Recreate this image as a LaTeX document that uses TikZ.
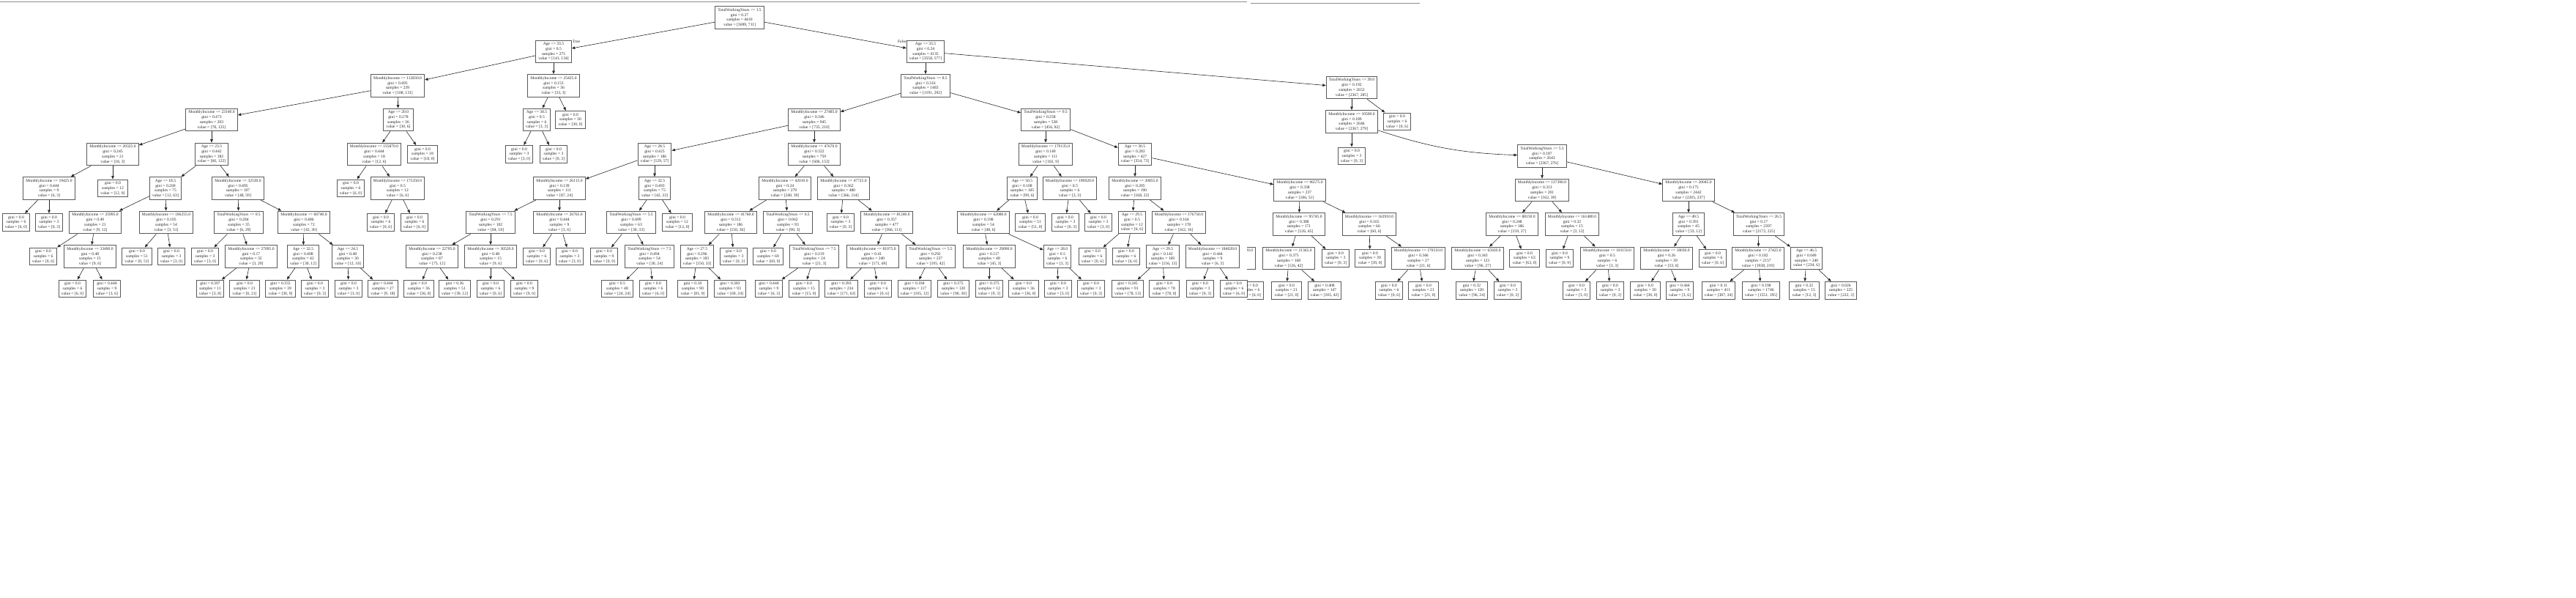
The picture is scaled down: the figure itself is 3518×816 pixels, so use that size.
\documentclass[tikz,border=0pt]{standalone}
\usepackage{fontspec}
\setmainfont{Liberation Serif}
\usetikzlibrary{arrows.meta}

\begin{document}
\begin{tikzpicture}[x=1pt, y=-1pt,
    tnode/.style={draw=black!65, line width=1pt, rectangle, align=center, text=black!85,
      font=\fontsize{5.6}{6.7}\selectfont, inner xsep=3.6pt, inner ysep=3pt},
    branch/.style={draw=black!85, line width=0.6pt, -{Triangle[length=4.5pt,width=3.6pt]}},
    tflabel/.style={text=black!85, font=\fontsize{5.6}{6.7}\selectfont, inner sep=0pt}]

    % 1. Page size and the grey rule at the top
    \useasboundingbox (0,0) rectangle (3518,816);
    \draw[black!45, line width=1pt] (0,2.7) -- (1703,2.7);
    \draw[black!45, line width=1pt] (1708,4.5) -- (1939,4.5);

    % 2. Root and first split
    \node[tnode] (r) at (1010,24) {TotalWorkingYears <= 1.5\\gini = 0.27\\samples = 4410\\value = [3699, 711]};
    \node[tnode] (a1) at (756,70.5) {Age <= 33.5\\gini = 0.5\\samples = 275\\value = [141, 134]};
    \node[tnode] (a2) at (1264,70.5) {Age <= 33.5\\gini = 0.24\\samples = 4135\\value = [3558, 577]};
    \node[tflabel] (tlab) at (787,57) {True};
    \node[tflabel] (flab) at (1232,57) {False};

    % 3. Depth 2
    \node[tnode] (b1) at (543,117) {MonthlyIncome <= 112830.0\\gini = 0.495\\samples = 239\\value = [108, 131]};
    \node[tnode] (b2) at (756,117) {MonthlyIncome <= 25425.0\\gini = 0.153\\samples = 36\\value = [33, 3]};
    \node[tnode] (b3) at (1264,117) {TotalWorkingYears <= 8.5\\gini = 0.316\\samples = 1483\\value = [1191, 292]};
    \node[tnode] (b4) at (1846,119.5) {TotalWorkingYears <= 39.0\\gini = 0.192\\samples = 2652\\value = [2367, 285]};

    % 4. Depth 3
    \node[tnode] (c1) at (289,163.5) {MonthlyIncome <= 23140.0\\gini = 0.473\\samples = 203\\value = [78, 125]};
    \node[tnode] (c2) at (544,163.5) {Age <= 20.0\\gini = 0.278\\samples = 36\\value = [30, 6]};
    \node[tnode] (c3) at (733,163.5) {Age <= 34.5\\gini = 0.5\\samples = 6\\value = [3, 3]};
    \node[tnode] (c4) at (779,163.5) {gini = 0.0\\samples = 30\\value = [30, 0]};
    \node[tnode] (c5) at (1112,163.5) {MonthlyIncome <= 27485.0\\gini = 0.346\\samples = 945\\value = [735, 210]};
    \node[tnode] (c6) at (1428,163.5) {TotalWorkingYears <= 9.5\\gini = 0.258\\samples = 538\\value = [456, 82]};
    \node[tnode] (c7) at (1846,166) {MonthlyIncome <= 10500.0\\gini = 0.189\\samples = 2646\\value = [2367, 279]};
    \node[tnode] (c8) at (1908,166) {gini = 0.0\\samples = 6\\value = [0, 6]};

    % 5. Depth 4
    \node[tnode] (d1) at (154,210.5) {MonthlyIncome <= 20325.0\\gini = 0.245\\samples = 21\\value = [18, 3]};
    \node[tnode] (d2) at (289,210.5) {Age <= 23.5\\gini = 0.442\\samples = 182\\value = [60, 122]};
    \node[tnode] (d3) at (511,210.5) {MonthlyIncome <= 155870.0\\gini = 0.444\\samples = 18\\value = [12, 6]};
    \node[tnode] (d4) at (577,210.5) {gini = 0.0\\samples = 18\\value = [18, 0]};
    \node[tnode] (d5) at (709,210.5) {gini = 0.0\\samples = 3\\value = [3, 0]};
    \node[tnode] (d6) at (756,210.5) {gini = 0.0\\samples = 3\\value = [0, 3]};
    \node[tnode] (d7) at (894,210.5) {Age <= 28.5\\gini = 0.425\\samples = 186\\value = [129, 57]};
    \node[tnode] (d8) at (1112,210.5) {MonthlyIncome <= 47670.0\\gini = 0.322\\samples = 759\\value = [606, 153]};
    \node[tnode] (d9) at (1428,210.5) {MonthlyIncome <= 179135.0\\gini = 0.149\\samples = 111\\value = [102, 9]};
    \node[tnode] (d10) at (1550,210.5) {Age <= 30.5\\gini = 0.283\\samples = 427\\value = [354, 73]};
    \node[tnode] (d11) at (1846,213) {gini = 0.0\\samples = 3\\value = [0, 3]};
    \node[tnode] (d12) at (2106,213) {TotalWorkingYears <= 5.5\\gini = 0.187\\samples = 2643\\value = [2367, 276]};

    % 6. Depth 5
    \node[tnode] (e1) at (67,257) {MonthlyIncome <= 19425.0\\gini = 0.444\\samples = 9\\value = [6, 3]};
    \node[tnode] (e2) at (154,257) {gini = 0.0\\samples = 12\\value = [12, 0]};
    \node[tnode] (e3) at (226,257) {Age <= 18.5\\gini = 0.269\\samples = 75\\value = [12, 63]};
    \node[tnode] (e4) at (325,257) {MonthlyIncome <= 32530.0\\gini = 0.495\\samples = 107\\value = [48, 59]};
    \node[tnode] (e5) at (479,257) {gini = 0.0\\samples = 6\\value = [6, 0]};
    \node[tnode] (e6) at (543,257) {MonthlyIncome <= 175350.0\\gini = 0.5\\samples = 12\\value = [6, 6]};
    \node[tnode] (e7) at (764,257) {MonthlyIncome <= 26115.0\\gini = 0.139\\samples = 111\\value = [87, 24]};
    \node[tnode] (e8) at (894,257) {Age <= 32.5\\gini = 0.493\\samples = 75\\value = [42, 33]};
    \node[tnode] (e9) at (1072,257) {MonthlyIncome <= 42010.0\\gini = 0.24\\samples = 279\\value = [240, 39]};
    \node[tnode] (e10) at (1152,257) {MonthlyIncome <= 47725.0\\gini = 0.362\\samples = 480\\value = [366, 114]};
    \node[tnode] (e11) at (1396,257) {Age <= 50.5\\gini = 0.108\\samples = 105\\value = [99, 6]};
    \node[tnode] (e12) at (1461,257) {MonthlyIncome <= 190920.0\\gini = 0.5\\samples = 6\\value = [3, 3]};
    \node[tnode] (e13) at (1550,257) {MonthlyIncome <= 20855.0\\gini = 0.205\\samples = 190\\value = [168, 22]};
    \node[tnode] (e14) at (1775,259.5) {MonthlyIncome <= 96575.0\\gini = 0.338\\samples = 237\\value = [186, 51]};
    \node[tnode] (e15) at (2106,259.5) {MonthlyIncome <= 137390.0\\gini = 0.313\\samples = 201\\value = [162, 39]};
    \node[tnode] (e16) at (2306,259.5) {MonthlyIncome <= 20045.0\\gini = 0.175\\samples = 2442\\value = [2205, 237]};

    % 7. Depth 6
    \node[tnode] (f1) at (22,303.5) {gini = 0.0\\samples = 6\\value = [6, 0]};
    \node[tnode] (f2) at (67,303.5) {gini = 0.0\\samples = 3\\value = [0, 3]};
    \node[tnode] (f3) at (130,303.5) {MonthlyIncome <= 25995.0\\gini = 0.49\\samples = 21\\value = [9, 12]};
    \node[tnode] (f4) at (227,303.5) {MonthlyIncome <= 106255.0\\gini = 0.105\\samples = 54\\value = [3, 51]};
    \node[tnode] (f5) at (326,303.5) {TotalWorkingYears <= 0.5\\gini = 0.284\\samples = 35\\value = [6, 29]};
    \node[tnode] (f6) at (415,303.5) {MonthlyIncome <= 60740.0\\gini = 0.486\\samples = 72\\value = [42, 30]};
    \node[tnode] (f7) at (520,303.5) {gini = 0.0\\samples = 6\\value = [0, 6]};
    \node[tnode] (f8) at (566,303.5) {gini = 0.0\\samples = 6\\value = [6, 0]};
    \node[tnode] (f9) at (670,303.5) {TotalWorkingYears <= 7.5\\gini = 0.291\\samples = 102\\value = [84, 18]};
    \node[tnode] (f10) at (764,303.5) {MonthlyIncome <= 26765.0\\gini = 0.444\\samples = 9\\value = [3, 6]};
    \node[tnode] (f11) at (862,303.5) {TotalWorkingYears <= 5.5\\gini = 0.499\\samples = 63\\value = [30, 33]};
    \node[tnode] (f12) at (925,303.5) {gini = 0.0\\samples = 12\\value = [12, 0]};
    \node[tnode] (f13) at (998,303.5) {MonthlyIncome <= 41760.0\\gini = 0.312\\samples = 186\\value = [150, 36]};
    \node[tnode] (f14) at (1076,303.5) {TotalWorkingYears <= 6.5\\gini = 0.062\\samples = 93\\value = [90, 3]};
    \node[tnode] (f15) at (1148,303.5) {gini = 0.0\\samples = 3\\value = [0, 3]};
    \node[tnode] (f16) at (1211,303.5) {MonthlyIncome <= 81240.0\\gini = 0.357\\samples = 477\\value = [366, 111]};
    \node[tnode] (f17) at (1343,303.5) {MonthlyIncome <= 62080.0\\gini = 0.198\\samples = 54\\value = [48, 6]};
    \node[tnode] (f18) at (1407,303.5) {gini = 0.0\\samples = 51\\value = [51, 0]};
    \node[tnode] (f19) at (1455,303.5) {gini = 0.0\\samples = 3\\value = [0, 3]};
    \node[tnode] (f20) at (1500,303.5) {gini = 0.0\\samples = 3\\value = [3, 0]};
    \node[tnode] (f21) at (1546,303.5) {Age <= 29.5\\gini = 0.5\\samples = 12\\value = [6, 6]};
    \node[tnode] (f22) at (1610,303.5) {MonthlyIncome <= 176750.0\\gini = 0.164\\samples = 178\\value = [162, 16]};
    \node[tnode] (f23) at (1774,306) {MonthlyIncome <= 95745.0\\gini = 0.388\\samples = 171\\value = [126, 45]};
    \node[tnode] (f24) at (1870,306) {MonthlyIncome <= 163910.0\\gini = 0.165\\samples = 66\\value = [60, 6]};
    \node[tnode] (f25) at (2065,306) {MonthlyIncome <= 88150.0\\gini = 0.248\\samples = 186\\value = [159, 27]};
    \node[tnode] (f26) at (2147,306) {MonthlyIncome <= 161480.0\\gini = 0.32\\samples = 15\\value = [3, 12]};
    \node[tnode] (f27) at (2306,306) {Age <= 49.5\\gini = 0.391\\samples = 45\\value = [33, 12]};
    \node[tnode] (f28) at (2402,306) {TotalWorkingYears <= 26.5\\gini = 0.17\\samples = 2397\\value = [2172, 225]};

    % 8. Depth 7
    \node[tnode] (g1) at (59,350) {gini = 0.0\\samples = 6\\value = [0, 6]};
    \node[tnode] (g2) at (123,350) {MonthlyIncome <= 33490.0\\gini = 0.48\\samples = 15\\value = [9, 6]};
    \node[tnode] (g3) at (187,350) {gini = 0.0\\samples = 51\\value = [0, 51]};
    \node[tnode] (g4) at (234,350) {gini = 0.0\\samples = 3\\value = [3, 0]};
    \node[tnode] (g5) at (280,350) {gini = 0.0\\samples = 3\\value = [3, 0]};
    \node[tnode] (g6) at (343,350) {MonthlyIncome <= 27095.0\\gini = 0.17\\samples = 32\\value = [3, 29]};
    \node[tnode] (g7) at (414,350) {Age <= 32.5\\gini = 0.408\\samples = 42\\value = [30, 12]};
    \node[tnode] (g8) at (475,350) {Age <= 24.5\\gini = 0.48\\samples = 30\\value = [12, 18]};
    \node[tnode] (g9) at (590,350) {MonthlyIncome <= 22705.0\\gini = 0.238\\samples = 87\\value = [75, 12]};
    \node[tnode] (g10) at (670,350) {MonthlyIncome <= 30520.0\\gini = 0.48\\samples = 15\\value = [9, 6]};
    \node[tnode] (g11) at (733,350) {gini = 0.0\\samples = 6\\value = [0, 6]};
    \node[tnode] (g12) at (778,350) {gini = 0.0\\samples = 3\\value = [3, 0]};
    \node[tnode] (g13) at (825,350) {gini = 0.0\\samples = 9\\value = [0, 9]};
    \node[tnode] (g14) at (887,350) {TotalWorkingYears <= 7.5\\gini = 0.494\\samples = 54\\value = [30, 24]};
    \node[tnode] (g15) at (952,350) {Age <= 27.5\\gini = 0.296\\samples = 183\\value = [150, 33]};
    \node[tnode] (g16) at (1002,350) {gini = 0.0\\samples = 3\\value = [0, 3]};
    \node[tnode] (g17) at (1049,350) {gini = 0.0\\samples = 69\\value = [69, 0]};
    \node[tnode] (g18) at (1112,350) {TotalWorkingYears <= 7.5\\gini = 0.219\\samples = 24\\value = [21, 3]};
    \node[tnode] (g19) at (1192,350) {MonthlyIncome <= 81075.0\\gini = 0.41\\samples = 240\\value = [171, 69]};
    \node[tnode] (g20) at (1271,350) {TotalWorkingYears <= 5.5\\gini = 0.292\\samples = 237\\value = [195, 42]};
    \node[tnode] (g21) at (1351,350) {MonthlyIncome <= 29090.0\\gini = 0.117\\samples = 48\\value = [45, 3]};
    \node[tnode] (g22) at (1444,350) {Age <= 28.0\\gini = 0.5\\samples = 6\\value = [3, 3]};
    \node[tnode] (g23) at (1492,350) {gini = 0.0\\samples = 6\\value = [0, 6]};
    \node[tnode] (g24) at (1538,350) {gini = 0.0\\samples = 6\\value = [6, 0]};
    \node[tnode] (g25) at (1588,350) {Age <= 29.5\\gini = 0.142\\samples = 169\\value = [156, 13]};
    \node[tnode] (g26) at (1656,350) {MonthlyIncome <= 184020.0\\gini = 0.444\\samples = 9\\value = [6, 3]};
    \node[tnode] (g27) at (1760,352.5) {MonthlyIncome <= 21365.0\\gini = 0.375\\samples = 168\\value = [126, 42]};
    \node[tnode] (g28) at (1824,352.5) {gini = 0.0\\samples = 3\\value = [0, 3]};
    \node[tnode] (g29) at (1871,352.5) {gini = 0.0\\samples = 39\\value = [39, 0]};
    \node[tnode] (g30) at (1937,352.5) {MonthlyIncome <= 170510.0\\gini = 0.346\\samples = 27\\value = [21, 6]};
    \node[tnode] (g31) at (2018,352.5) {MonthlyIncome <= 65920.0\\gini = 0.343\\samples = 123\\value = [96, 27]};
    \node[tnode] (g32) at (2082,352.5) {gini = 0.0\\samples = 63\\value = [63, 0]};
    \node[tnode] (g33) at (2130,352.5) {gini = 0.0\\samples = 9\\value = [0, 9]};
    \node[tnode] (g34) at (2195,352.5) {MonthlyIncome <= 181150.0\\gini = 0.5\\samples = 6\\value = [3, 3]};
    \node[tnode] (g35) at (2276,352.5) {MonthlyIncome <= 18030.0\\gini = 0.26\\samples = 39\\value = [33, 6]};
    \node[tnode] (g36) at (2339,352.5) {gini = 0.0\\samples = 6\\value = [0, 6]};
    \node[tnode] (g37) at (2401,352.5) {MonthlyIncome <= 27425.0\\gini = 0.182\\samples = 2157\\value = [1938, 219]};
    \node[tnode] (g38) at (2467,352.5) {Age <= 46.5\\gini = 0.049\\samples = 240\\value = [234, 6]};

    % 9. Depth 8 (leaves)
    \node[tnode] (h1) at (99,394) {gini = 0.0\\samples = 6\\value = [6, 0]};
    \node[tnode] (h2) at (146,394) {gini = 0.444\\samples = 9\\value = [3, 6]};
    \node[tnode] (h3) at (287,394) {gini = 0.397\\samples = 11\\value = [3, 8]};
    \node[tnode] (h4) at (334,394) {gini = 0.0\\samples = 21\\value = [0, 21]};
    \node[tnode] (h5) at (383,394) {gini = 0.355\\samples = 39\\value = [30, 9]};
    \node[tnode] (h6) at (430,394) {gini = 0.0\\samples = 3\\value = [0, 3]};
    \node[tnode] (h7) at (476,394) {gini = 0.0\\samples = 3\\value = [3, 0]};
    \node[tnode] (h8) at (523,394) {gini = 0.444\\samples = 27\\value = [9, 18]};
    \node[tnode] (h9) at (572,394) {gini = 0.0\\samples = 36\\value = [36, 0]};
    \node[tnode] (h10) at (621,394) {gini = 0.36\\samples = 51\\value = [39, 12]};
    \node[tnode] (h11) at (670,394) {gini = 0.0\\samples = 6\\value = [0, 6]};
    \node[tnode] (h12) at (716,394) {gini = 0.0\\samples = 9\\value = [9, 0]};
    \node[tnode] (h13) at (843,394) {gini = 0.5\\samples = 48\\value = [24, 24]};
    \node[tnode] (h14) at (892,394) {gini = 0.0\\samples = 6\\value = [6, 0]};
    \node[tnode] (h15) at (946,394) {gini = 0.18\\samples = 90\\value = [81, 9]};
    \node[tnode] (h16) at (997,394) {gini = 0.383\\samples = 93\\value = [69, 24]};
    \node[tnode] (h17) at (1050,394) {gini = 0.444\\samples = 9\\value = [6, 3]};
    \node[tnode] (h18) at (1098,394) {gini = 0.0\\samples = 15\\value = [15, 0]};
    \node[tnode] (h19) at (1149,394) {gini = 0.393\\samples = 234\\value = [171, 63]};
    \node[tnode] (h20) at (1199,394) {gini = 0.0\\samples = 6\\value = [0, 6]};
    \node[tnode] (h21) at (1249,394) {gini = 0.184\\samples = 117\\value = [105, 12]};
    \node[tnode] (h22) at (1302,394) {gini = 0.375\\samples = 120\\value = [90, 30]};
    \node[tnode] (h23) at (1351,394) {gini = 0.375\\samples = 12\\value = [9, 3]};
    \node[tnode] (h24) at (1398,394) {gini = 0.0\\samples = 36\\value = [36, 0]};
    \node[tnode] (h25) at (1445,394) {gini = 0.0\\samples = 3\\value = [3, 0]};
    \node[tnode] (h26) at (1490,394) {gini = 0.0\\samples = 3\\value = [0, 3]};
    \node[tnode] (h27) at (1540,394) {gini = 0.245\\samples = 91\\value = [78, 13]};
    \node[tnode] (h28) at (1590,394) {gini = 0.0\\samples = 78\\value = [78, 0]};
    \node[tnode] (h29) at (1639,394) {gini = 0.0\\samples = 3\\value = [0, 3]};
    \node[tnode] (h30) at (1685,394) {gini = 0.0\\samples = 6\\value = [6, 0]};
    \node[tnode] (h31) at (1757,396.5) {gini = 0.0\\samples = 21\\value = [21, 0]};
    \node[tnode] (h32) at (1809,396.5) {gini = 0.408\\samples = 147\\value = [105, 42]};
    \node[tnode] (h33) at (1897,396.5) {gini = 0.0\\samples = 6\\value = [0, 6]};
    \node[tnode] (h34) at (1944,396.5) {gini = 0.0\\samples = 21\\value = [21, 0]};
    \node[tnode] (h35) at (2010,396.5) {gini = 0.32\\samples = 120\\value = [96, 24]};
    \node[tnode] (h36) at (2059,396.5) {gini = 0.0\\samples = 3\\value = [0, 3]};
    \node[tnode] (h37) at (2153,396.5) {gini = 0.0\\samples = 3\\value = [3, 0]};
    \node[tnode] (h38) at (2199,396.5) {gini = 0.0\\samples = 3\\value = [0, 3]};
    \node[tnode] (h39) at (2247,396.5) {gini = 0.0\\samples = 30\\value = [30, 0]};
    \node[tnode] (h40) at (2294,396.5) {gini = 0.444\\samples = 9\\value = [3, 6]};
    \node[tnode] (h41) at (2347,396.5) {gini = 0.11\\samples = 411\\value = [387, 24]};
    \node[tnode] (h42) at (2405,396.5) {gini = 0.198\\samples = 1746\\value = [1551, 195]};
    \node[tnode] (h43) at (2464,396.5) {gini = 0.32\\samples = 15\\value = [12, 3]};
    \node[tnode] (h44) at (2514,396.5) {gini = 0.026\\samples = 225\\value = [222, 3]};

    % 10. Cut-off copies where the two screenshots meet
    \begin{scope}
        \clip (1703,320) rectangle (1745,420);
        \node[tnode] (g26b) at (1678,352.5) {MonthlyIncome <= 184020.0\\gini = 0.444\\samples = 9\\value = [6, 3]};
        \node[tnode] (h30b) at (1707,396.5) {gini = 0.0\\samples = 6\\value = [6, 0]};
        \path (g26b) edge[branch] (h30b);
    \end{scope}

    % 11. Arrows from each split to its two children
    \path (r) edge[branch] (a1) edge[branch] (a2);
    \path (a1) edge[branch] (b1) edge[branch] (b2);
    \path (a2) edge[branch] (b3) edge[branch] (b4);
    \path (b1) edge[branch] (c1) edge[branch] (c2);
    \path (b2) edge[branch] (c3) edge[branch] (c4);
    \path (b3) edge[branch] (c5) edge[branch] (c6);
    \path (b4) edge[branch] (c7) edge[branch] (c8);
    \path (c1) edge[branch] (d1) edge[branch] (d2);
    \path (c2) edge[branch] (d3) edge[branch] (d4);
    \path (c3) edge[branch] (d5) edge[branch] (d6);
    \path (c5) edge[branch] (d7) edge[branch] (d8);
    \path (c6) edge[branch] (d9) edge[branch] (d10);
    \path (c7) edge[branch] (d11) edge[branch, bend right=8] (d12);
    \path (d1) edge[branch] (e1) edge[branch] (e2);
    \path (d2) edge[branch] (e3) edge[branch] (e4);
    \path (d3) edge[branch] (e5) edge[branch] (e6);
    \path (d7) edge[branch] (e7) edge[branch] (e8);
    \path (d8) edge[branch] (e9) edge[branch] (e10);
    \path (d9) edge[branch] (e11) edge[branch] (e12);
    \path (d10) edge[branch] (e13) edge[branch] (e14);
    \path (d12) edge[branch] (e15) edge[branch] (e16);
    \path (e1) edge[branch] (f1) edge[branch] (f2);
    \path (e3) edge[branch] (f3) edge[branch] (f4);
    \path (e4) edge[branch] (f5) edge[branch] (f6);
    \path (e6) edge[branch] (f7) edge[branch] (f8);
    \path (e7) edge[branch] (f9) edge[branch] (f10);
    \path (e8) edge[branch] (f11) edge[branch] (f12);
    \path (e9) edge[branch] (f13) edge[branch] (f14);
    \path (e10) edge[branch] (f15) edge[branch] (f16);
    \path (e11) edge[branch] (f17) edge[branch] (f18);
    \path (e12) edge[branch] (f19) edge[branch] (f20);
    \path (e13) edge[branch] (f21) edge[branch] (f22);
    \path (e14) edge[branch] (f23) edge[branch] (f24);
    \path (e15) edge[branch] (f25) edge[branch] (f26);
    \path (e16) edge[branch] (f27) edge[branch] (f28);
    \path (f3) edge[branch] (g1) edge[branch] (g2);
    \path (f4) edge[branch] (g3) edge[branch] (g4);
    \path (f5) edge[branch] (g5) edge[branch] (g6);
    \path (f6) edge[branch] (g7) edge[branch] (g8);
    \path (f9) edge[branch] (g9) edge[branch] (g10);
    \path (f10) edge[branch] (g11) edge[branch] (g12);
    \path (f11) edge[branch] (g13) edge[branch] (g14);
    \path (f13) edge[branch] (g15) edge[branch] (g16);
    \path (f14) edge[branch] (g17) edge[branch] (g18);
    \path (f16) edge[branch] (g19) edge[branch] (g20);
    \path (f17) edge[branch] (g21) edge[branch] (g22);
    \path (f21) edge[branch] (g23) edge[branch] (g24);
    \path (f22) edge[branch] (g25) edge[branch] (g26);
    \path (f23) edge[branch] (g27) edge[branch] (g28);
    \path (f24) edge[branch] (g29) edge[branch] (g30);
    \path (f25) edge[branch] (g31) edge[branch] (g32);
    \path (f26) edge[branch] (g33) edge[branch] (g34);
    \path (f27) edge[branch] (g35) edge[branch] (g36);
    \path (f28) edge[branch] (g37) edge[branch] (g38);
    \path (g2) edge[branch] (h1) edge[branch] (h2);
    \path (g6) edge[branch] (h3) edge[branch] (h4);
    \path (g7) edge[branch] (h5) edge[branch] (h6);
    \path (g8) edge[branch] (h7) edge[branch] (h8);
    \path (g9) edge[branch] (h9) edge[branch] (h10);
    \path (g10) edge[branch] (h11) edge[branch] (h12);
    \path (g14) edge[branch] (h13) edge[branch] (h14);
    \path (g15) edge[branch] (h15) edge[branch] (h16);
    \path (g18) edge[branch] (h17) edge[branch] (h18);
    \path (g19) edge[branch] (h19) edge[branch] (h20);
    \path (g20) edge[branch] (h21) edge[branch] (h22);
    \path (g21) edge[branch] (h23) edge[branch] (h24);
    \path (g22) edge[branch] (h25) edge[branch] (h26);
    \path (g25) edge[branch] (h27) edge[branch] (h28);
    \path (g26) edge[branch] (h29) edge[branch] (h30);
    \path (g27) edge[branch] (h31) edge[branch] (h32);
    \path (g30) edge[branch] (h33) edge[branch] (h34);
    \path (g31) edge[branch] (h35) edge[branch] (h36);
    \path (g34) edge[branch] (h37) edge[branch] (h38);
    \path (g35) edge[branch] (h39) edge[branch] (h40);
    \path (g37) edge[branch] (h41) edge[branch] (h42);
    \path (g38) edge[branch] (h43) edge[branch] (h44);

\end{tikzpicture}
\end{document}
